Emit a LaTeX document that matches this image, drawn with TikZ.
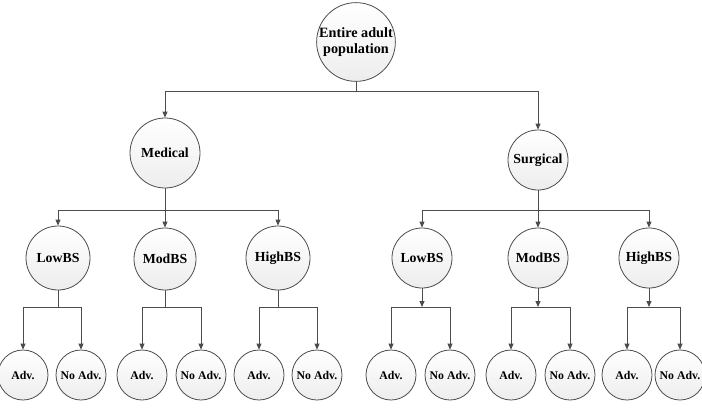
\documentclass[tikz,border=0pt]{standalone}
\usepackage{fontspec}
\setmainfont{Liberation Serif}
\usetikzlibrary{arrows.meta}

\begin{document}
\begin{tikzpicture}[x=1pt,y=-1pt,>={Triangle[length=6pt,width=5pt]},
  ball/.style={circle,draw=black!70,line width=0.8pt,inner sep=0pt,
    top color=white,bottom color=gray!14,align=center},
  big/.style={ball,font=\fontsize{13.8}{15.5}\selectfont\bfseries},
  leaf/.style={ball,minimum size=50pt,font=\fontsize{11.8}{13}\selectfont\bfseries},
  link/.style={draw=black!70,line width=0.8pt}]
\useasboundingbox (0,0) rectangle (702,408);
% --- top level ---
\node[big,minimum size=78pt,font=\fontsize{14.2}{16}\selectfont\bfseries] (root) at (356,42)
  {Entire adult\\population};
\node[big,minimum size=70pt] (med) at (165,153) {Medical};
\node[big,minimum size=60pt] (surg) at (538,160) {Surgical};
\coordinate (jr) at (356,91);
\draw[link] (root) -- (jr);
\draw[link,->] (jr) -| (med.north);
\draw[link,->] (jr) -| (surg.north);

% --- blood sugar groups ---
\node[big,minimum size=64pt] (mlow) at (58,258) {LowBS};
\node[big,minimum size=62pt] (mmod) at (165,259) {ModBS};
\node[big,minimum size=64pt] (mhigh) at (278,258) {HighBS};
\node[big,minimum size=60pt] (slow) at (422,258) {LowBS};
\node[big,minimum size=60pt] (smod) at (538,258) {ModBS};
\node[big,minimum size=60pt] (shigh) at (649,258) {HighBS};
\coordinate (jm) at (165,210);
\coordinate (js) at (538,210);
\draw[link] (med) -- (jm);
\draw[link] (surg) -- (js);
\foreach \n in {mlow,mmod,mhigh} \draw[link,->] (jm) -| (\n.north);
\foreach \n in {slow,smod,shigh} \draw[link,->] (js) -| (\n.north);

% --- advice / no advice ---
\foreach \p/\xa/\xb/\tip in {mlow/23/81/-,mmod/142/201/-,mhigh/259/317/-,
    slow/391/450/->,smod/511/570/->,shigh/627/680/->}{
  \node[leaf] (\p a) at (\xa,375) {Adv.};
  \node[leaf] (\p n) at (\xb,375) {No Adv.};
  \coordinate (\p j) at (\p |- 0,307);
  \draw[link,\tip] (\p) -- (\p j);
  \draw[link,->] (\p j) -| (\p a.north);
  \draw[link,->] (\p j) -| (\p n.north);
}
\end{tikzpicture}
\end{document}
